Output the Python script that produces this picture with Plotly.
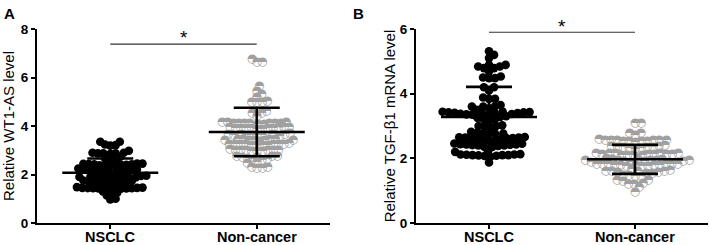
import math
import numpy as np
import plotly.graph_objects as go

# ---------------- data ----------------
categories = ["NSCLC", "Non-cancer"]

wt1_nsclc = [3.35, 3.35, 3.24, 3.21, 3.19,
             2.98, 2.90, 2.90, 2.87, 2.87, 2.87, 2.84,
             2.73, 2.66, 2.60, 2.62,
             2.45, 2.43, 2.42, 2.42, 2.40, 2.40, 2.38, 2.38, 2.36, 2.35, 2.45, 2.44,
             2.25, 2.22, 2.20, 2.20, 2.18, 2.17, 2.15, 2.14, 2.12, 2.10, 2.08, 2.06,
             1.95, 1.93, 1.92, 1.90, 1.90, 1.88, 1.88, 1.87, 1.86, 1.85, 1.92, 1.94,
             1.75, 1.73, 1.72, 1.70, 1.70, 1.68, 1.67, 1.66, 1.65, 1.64,
             1.48, 1.46, 1.45, 1.44, 1.44, 1.43, 1.43, 1.42, 1.42, 1.41, 1.40, 1.45,
             1.21, 1.14, 1.00, 0.97, 1.25, 1.30]

wt1_noncancer = [6.76, 6.65, 6.65, 5.66,
                 5.46, 5.31, 5.21, 5.03, 5.00, 4.97, 4.97,
                 4.62, 4.52, 4.52, 4.41,
                 4.16, 4.15, 4.14, 4.14, 4.13, 4.12, 4.12, 4.11, 4.10, 4.10, 4.15, 4.13,
                 3.96, 3.95, 3.94, 3.93, 3.92, 3.92, 3.91, 3.90, 3.89, 3.88, 3.94, 3.90,
                 3.70, 3.68, 3.66, 3.65, 3.64, 3.63, 3.62, 3.61, 3.60, 3.66, 3.64,
                 3.48, 3.46, 3.45, 3.44, 3.43, 3.42, 3.41, 3.40, 3.45, 3.43,
                 3.28, 3.27, 3.26, 3.26, 3.25, 3.24, 3.23, 3.22, 3.21, 3.20, 3.25, 3.24,
                 3.05, 3.03, 3.02, 3.00, 3.00, 2.99, 2.98, 2.97, 2.96, 3.01,
                 2.78, 2.75, 2.73, 2.72, 2.70, 2.76,
                 2.66, 2.65, 2.59, 2.51, 2.46, 2.32, 2.32, 2.28, 2.28]

tgf_nsclc = [5.31, 5.20, 5.10, 4.89, 4.89, 4.84, 4.84, 4.79, 4.79, 4.69,
             4.53, 4.50, 4.48, 4.48,
             4.20, 4.20, 4.10,
             3.88, 3.84, 3.84,
             3.65, 3.60, 3.60, 3.60, 3.55, 3.50,
             3.45, 3.44, 3.43, 3.42, 3.42, 3.41, 3.40, 3.40, 3.39, 3.38, 3.37, 3.36, 3.35, 3.34,
             3.30, 3.28, 3.25, 3.22, 3.20, 3.15,
             3.02, 3.00, 3.00, 2.98, 2.95,
             2.82, 2.80, 2.77, 2.77, 2.77, 2.77,
             2.66, 2.65, 2.64, 2.64, 2.63, 2.62, 2.62, 2.61, 2.60, 2.58, 2.56, 2.55,
             2.46, 2.45, 2.44, 2.43, 2.43, 2.42, 2.41, 2.40, 2.40, 2.38, 2.36, 2.35,
             2.22, 2.20, 2.05,
             2.13, 2.12, 2.12, 2.11, 2.10, 2.10, 2.10, 2.09, 2.08, 2.07,
             1.87]

tgf_noncancer = [3.10, 3.10, 2.79, 2.77, 2.72,
                 2.60, 2.58, 2.57, 2.57, 2.56, 2.55, 2.55, 2.54, 2.53, 2.52, 2.58, 2.56,
                 2.40, 2.38, 2.37, 2.36, 2.35, 2.35, 2.34, 2.33, 2.32, 2.30,
                 2.18, 2.17, 2.16, 2.15, 2.15, 2.14, 2.13, 2.13, 2.12, 2.12, 2.11, 2.10, 2.10, 2.09,
                 2.00, 1.99, 1.98, 1.97, 1.96, 1.96, 1.95, 1.95, 1.94, 1.93, 1.92, 1.91, 1.90, 1.90,
                 1.84, 1.83, 1.82, 1.81, 1.81, 1.80, 1.80, 1.79, 1.78, 1.77, 1.76, 1.75, 1.82, 1.80,
                 1.66, 1.64, 1.62, 1.61, 1.60, 1.60, 1.59, 1.58, 1.56, 1.55,
                 1.50, 1.48, 1.46, 1.45,
                 1.32, 1.32, 1.29, 1.24, 1.22, 1.22, 1.10, 0.96]

# mean and SD
wt1_mean = [2.07, 3.75]
wt1_sd = [0.59, 1.00]
tgf_mean = [3.28, 1.97]
tgf_sd = [0.93, 0.45]

wt1_ticks = [0, 2, 4, 6, 8]
tgf_ticks = [0, 2, 4, 6]

sig_x = [0, 1]
sig_y = [7.38, 5.90]

# ---------------- layout helpers ----------------
W, H = 709, 245
ML, MR, MT, MB = 37, 1, 29, 22
PW = W - ML - MR
PH = H - MT - MB
domA = [0, (330 - ML) / PW]
domB = [(416 - ML) / PW, 1.0]


def swarm(vals, ypx, xpx, d):
    vals = np.asarray(vals, dtype=float)
    order = np.argsort(vals, kind="stable")
    placed = []
    offs = np.zeros(len(vals))
    for i in order:
        y = vals[i] * ypx
        near = [(py, px) for py, px in placed if abs(py - y) < d]
        cands = [0.0]
        for py, px in near:
            dx = math.sqrt(max(d * d - (py - y) ** 2, 0))
            cands += [px + dx, px - dx]
        cands.sort(key=abs)
        for c in cands:
            if all((c - px) ** 2 + (y - py) ** 2 >= d * d - 1e-6 for py, px in near):
                offs[i] = c
                placed.append((y, c))
                break
    return offs / xpx


fig = go.Figure()
GREY = "#a0a0a0"
panels = [
    ("x", "y", wt1_nsclc, wt1_noncancer, wt1_mean, wt1_sd, 8, domA, 5.4),
    ("x2", "y2", tgf_nsclc, tgf_noncancer, tgf_mean, tgf_sd, 6, domB, 6.0),
]
for k, (xa, ya, g1, g2, mean, sd, ymax, dom, D) in enumerate(panels):
    xpx = (dom[1] - dom[0]) * PW / 2.0
    ypx = PH / ymax
    o1 = swarm(g1, ypx, xpx, D)
    o2 = swarm(g2, ypx, xpx, D)
    fig.add_trace(go.Scatter(x=0 + o1, y=g1, mode="markers", xaxis=xa, yaxis=ya,
                             marker=dict(color="black", size=8.6, line=dict(width=0)),
                             showlegend=False, cliponaxis=False))
    fig.add_trace(go.Scatter(x=1 + o2, y=g2, mode="markers", xaxis=xa, yaxis=ya,
                             marker=dict(color="white", size=8.6, line=dict(width=0)),
                             showlegend=False, cliponaxis=False))
    fig.add_trace(go.Scatter(x=1 + o2, y=g2, mode="text", xaxis=xa, yaxis=ya,
                             text=["\u25d3"] * len(g2), textposition="middle center",
                             textfont=dict(family="DejaVu Sans", size=12, color=GREY),
                             showlegend=False, cliponaxis=False))
    # mean line and SD bars
    fig.add_trace(go.Scatter(x=[0, 1], y=mean, mode="markers", xaxis=xa, yaxis=ya,
                             marker=dict(size=0.1, color="rgba(0,0,0,0)"),
                             error_x=dict(type="data", array=[48 / xpx] * 2, width=0,
                                          thickness=2.6, color="black"),
                             error_y=dict(type="data", array=sd, width=23,
                                          thickness=2.6, color="black"),
                             showlegend=False, cliponaxis=False))
    # significance bar
    fig.add_trace(go.Scatter(x=sig_x, y=[sig_y[k]] * 2, mode="lines", xaxis=xa, yaxis=ya,
                             line=dict(color="#333333", width=1.2),
                             showlegend=False, cliponaxis=False))

xcommon = dict(range=[-0.5, 1.5], tickvals=[0, 1], ticktext=["", ""], automargin=False,
               showline=True, linecolor="black", linewidth=2, ticks="outside",
               ticklen=4, tickwidth=2, tickcolor="black", showgrid=False, zeroline=False)
ycommon = dict(showline=True, linecolor="black", linewidth=2, ticks="outside", automargin=False,
               ticklen=4, tickwidth=2, tickcolor="black", showgrid=False, zeroline=False,
               tickfont=dict(family="Liberation Sans", size=13.5, color="black", weight="bold"))

star_font = dict(family="Liberation Sans", size=19, color="black")
cat_font = dict(family="Liberation Sans", size=14.5, color="black", weight="bold")
annotations = [
    dict(text="<b>A</b>", xref="paper", yref="paper", x=(2 - ML) / PW, y=(H - MB - 3) / PH,
         xanchor="left", yanchor="top", showarrow=False,
         font=dict(family="Liberation Sans", size=15, color="black")),
    dict(text="<b>B</b>", xref="paper", yref="paper", x=(351 - ML) / PW, y=(H - MB - 3) / PH,
         xanchor="left", yanchor="top", showarrow=False,
         font=dict(family="Liberation Sans", size=15, color="black")),
    dict(text="*", xref="x", yref="y", x=0.5, y=sig_y[0], yshift=-6,
         xanchor="center", yanchor="bottom", showarrow=False, font=star_font),
    dict(text="*", xref="x2", yref="y2", x=0.5, y=sig_y[1], yshift=-7,
         xanchor="center", yanchor="bottom", showarrow=False, font=star_font),
]
for xr, yr in (("x", "y domain"), ("x2", "y2 domain")):
    for i, c in enumerate(categories):
        annotations.append(dict(text=c, xref=xr, yref=yr, x=i, y=0, yshift=-4,
                                xanchor="center", yanchor="top", showarrow=False,
                                font=cat_font))

fig.update_layout(
    width=W, height=H, margin=dict(l=ML, r=MR, t=MT, b=MB, autoexpand=False),
    paper_bgcolor="white", plot_bgcolor="white",
    xaxis=dict(domain=domA, anchor="y", **xcommon),
    xaxis2=dict(domain=domB, anchor="y2", **xcommon),
    yaxis=dict(range=[0, 8], tickvals=wt1_ticks, anchor="x",
               title=dict(text="Relative WT1-AS level", standoff=13,
                          font=dict(family="Liberation Sans", size=15, color="black")),
               **ycommon),
    yaxis2=dict(range=[0, 6], tickvals=tgf_ticks, anchor="x2",
                title=dict(text="Relative TGF-\u03b21 mRNA level", standoff=1,
                           font=dict(family="Liberation Sans", size=15, color="black")),
                **ycommon),
    annotations=annotations,
)

fig.write_html("out.html", config={"displayModeBar": False},
               post_script="document.body.style.margin='0px';document.body.style.overflow='hidden';")
